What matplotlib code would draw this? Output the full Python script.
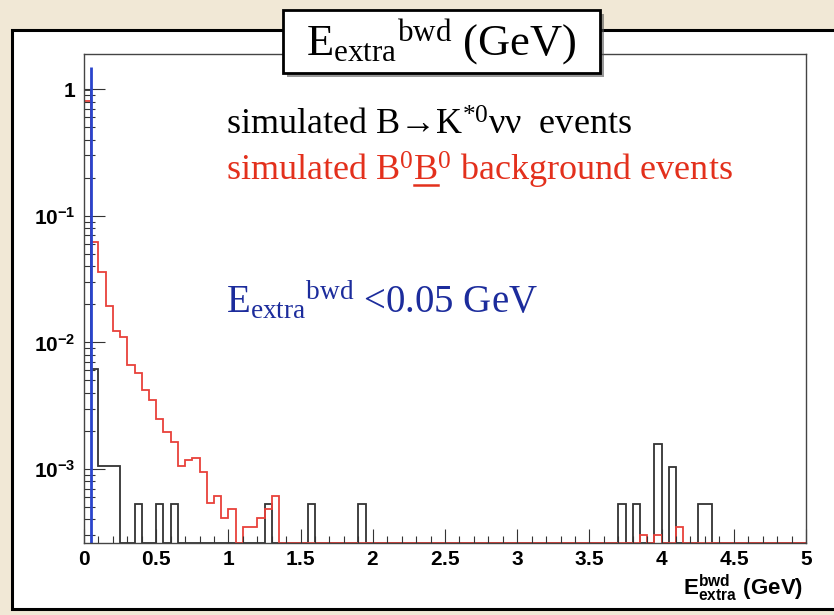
import numpy as np
import matplotlib
matplotlib.use("Agg")
import matplotlib.pyplot as plt
from matplotlib import font_manager
from matplotlib.patches import Rectangle
from matplotlib.lines import Line2D
from matplotlib.ticker import FixedLocator, FuncFormatter, MultipleLocator, NullFormatter

W, H = 834, 615

installed = {f.name for f in font_manager.fontManager.ttflist}
SANS = "Liberation Sans Narrow" if "Liberation Sans Narrow" in installed else "Liberation Sans"
SERIF = "Liberation Serif"

plt.rcParams["mathtext.fontset"] = "custom"
plt.rcParams["mathtext.rm"] = SERIF
plt.rcParams["mathtext.it"] = SERIF + ":italic"
plt.rcParams["mathtext.bf"] = SANS + ":bold"

# 100 bins of 0.05 GeV between 0 and 5 GeV
BIN_WIDTH = 0.05
N_BINS = 100
YMIN, YMAX = 2.6e-4, 1.9

# B0 B0bar background: contiguous low-energy bins (from 0 GeV) + isolated high-energy entries
bkg_head = [0.81, 0.0623, 0.0357, 0.0194, 0.0123, 0.0110, 0.0066, 0.0057, 0.0042, 0.0035,
            0.0025, 0.00195, 0.00164, 0.00106, 0.00118, 0.00122, 0.00094, 0.00054, 0.00061,
            0.00041, 0.00048, 0.0, 0.00035, 0.00035, 0.00041, 0.00048, 0.00061]
bkg_tail_edges = [3.85, 3.95, 4.10]
bkg_tail_vals = [0.00030, 0.00030, 0.00035]

# B -> K*0 nu nu signal
sig_head = [0.98, 0.0062, 0.00105, 0.00105, 0.00105]
sig_tail_edges = [0.35, 0.50, 0.60, 1.25, 1.55, 1.90, 3.70, 3.80, 3.95, 4.05, 4.25, 4.30]
sig_tail_vals = [0.00053, 0.00053, 0.00053, 0.00053, 0.00053, 0.00053,
                 0.00053, 0.00053, 0.00157, 0.00104, 0.00053, 0.00053]

CUT = 0.05
CUT_TOP = 1.5

x_ticks = [0, 0.5, 1, 1.5, 2, 2.5, 3, 3.5, 4, 4.5, 5]
y_ticks = [1e-3, 1e-2, 1e-1, 1]
y_tick_labels = [r"$\mathbf{10^{-3}}$", r"$\mathbf{10^{-2}}$", r"$\mathbf{10^{-1}}$", r"$\mathbf{1}$"]

BLACK = "#333333"
RED = "#e8413a"
BLUE = "#2a44cc"
TXT_RED = "#e3301c"
TXT_BLUE = "#1c2c9c"
BEIGE = "#f1e8d6"


def fill(head, tail_edges, tail_vals):
    v = np.zeros(N_BINS)
    v[:len(head)] = head
    for e, val in zip(tail_edges, tail_vals):
        v[int(round(e / BIN_WIDTH))] = val
    return v


def px(x, y):
    return x / W, 1 - y / H


edges = np.arange(N_BINS + 1) * BIN_WIDTH
bkg = fill(bkg_head, bkg_tail_edges, bkg_tail_vals)
sig = fill(sig_head, sig_tail_edges, sig_tail_vals)

fig = plt.figure(figsize=(W / 100, H / 100), dpi=100, facecolor=BEIGE)

# white slide panel
fig.add_artist(Rectangle(px(12, 609), (W + 20) / W, 579 / H, transform=fig.transFigure,
                         facecolor="white", edgecolor="black", lw=2.2, zorder=-2))

ax = fig.add_axes([84 / W, 1 - 543 / H, (806 - 84) / W, (543 - 54) / H])
ax.set_yscale("log")

# empty bins are drawn on the axis floor
ax.stairs(np.clip(sig, YMIN, None), edges, baseline=YMIN, color=BLACK, lw=1.3)
ax.stairs(np.clip(bkg, YMIN, None), edges, baseline=YMIN, color=RED, lw=1.3)
ax.vlines(CUT, YMIN, CUT_TOP, color=BLUE, lw=2)

ax.set_xlim(0, 5)
ax.set_ylim(YMIN, YMAX)

ax.xaxis.set_major_locator(FixedLocator(x_ticks))
ax.xaxis.set_minor_locator(MultipleLocator(0.1))
ax.xaxis.set_major_formatter(FuncFormatter(lambda v, p: r"$\mathbf{%g}$" % v))
ax.yaxis.set_major_locator(FixedLocator(y_ticks))
ax.yaxis.set_major_formatter(FuncFormatter(lambda v, p: y_tick_labels[p] if p is not None and p < len(y_tick_labels) else ""))
ax.yaxis.set_minor_locator(FixedLocator([m * 10.0 ** d for d in range(-4, 1) for m in range(2, 10)]))
ax.yaxis.set_minor_formatter(NullFormatter())

ax.tick_params(which="both", direction="in", top=False, right=False, color="#333333", width=0.8)
ax.tick_params(axis="x", which="major", length=10, pad=4, labelsize=15)
ax.tick_params(axis="x", which="minor", length=5)
ax.tick_params(axis="y", which="major", length=15, pad=6, labelsize=15)
ax.tick_params(axis="y", which="minor", length=8)
for s in ax.spines.values():
    s.set_color("#444444")
    s.set_linewidth(1.0)

fig.text(*px(803, 588), r"$\mathbf{E^{bwd}_{extra}}$ $\mathbf{(GeV)}$", ha="right", va="center",
         fontsize=16)

# title box with drop shadow
fig.add_artist(Rectangle(px(287, 77), 317 / W, 63 / H, transform=fig.transFigure,
                         facecolor="#555555", edgecolor="none", alpha=0.6, zorder=4))
fig.add_artist(Rectangle(px(283, 73), 317 / W, 63 / H, transform=fig.transFigure,
                         facecolor="white", edgecolor="black", lw=2, zorder=5))
fig.text(*px(441, 42), r"E$_{\mathrm{extra}}{}^{\mathrm{bwd}}$ (GeV)", ha="center", va="center",
         fontsize=32, family=SERIF, zorder=6)

LEG_SIZE = 26
fig.text(*px(226, 135), r"simulated B→K$^{*0}$νν  events", fontsize=LEG_SIZE, family=SERIF,
         color="black", va="baseline")
red_txt = r"simulated B$^0$B$^0$ background events"
fig.text(*px(226, 181), red_txt, fontsize=LEG_SIZE, family=SERIF, color=TXT_RED, va="baseline")
fig.text(*px(226, 313), r"E$_{\mathrm{extra}}{}^{\mathrm{bwd}}$ <0.05 GeV", fontsize=28,
         family=SERIF, color=TXT_BLUE, va="baseline")

# underline the second B (anti-B meson)
fig.canvas.draw()
renderer = fig.canvas.get_renderer()


def text_width(s):
    t = fig.text(0, 0, s, fontsize=LEG_SIZE, family=SERIF)
    w = t.get_window_extent(renderer).width
    t.remove()
    return w


x0 = 226 + text_width(r"simulated B$^0$")
x1 = x0 + text_width("B")
fig.add_artist(Line2D([x0 / W, x1 / W], [1 - 185 / H] * 2, transform=fig.transFigure,
                      color=TXT_RED, lw=1.8))

fig.savefig("out.png", dpi=100, facecolor=BEIGE)
